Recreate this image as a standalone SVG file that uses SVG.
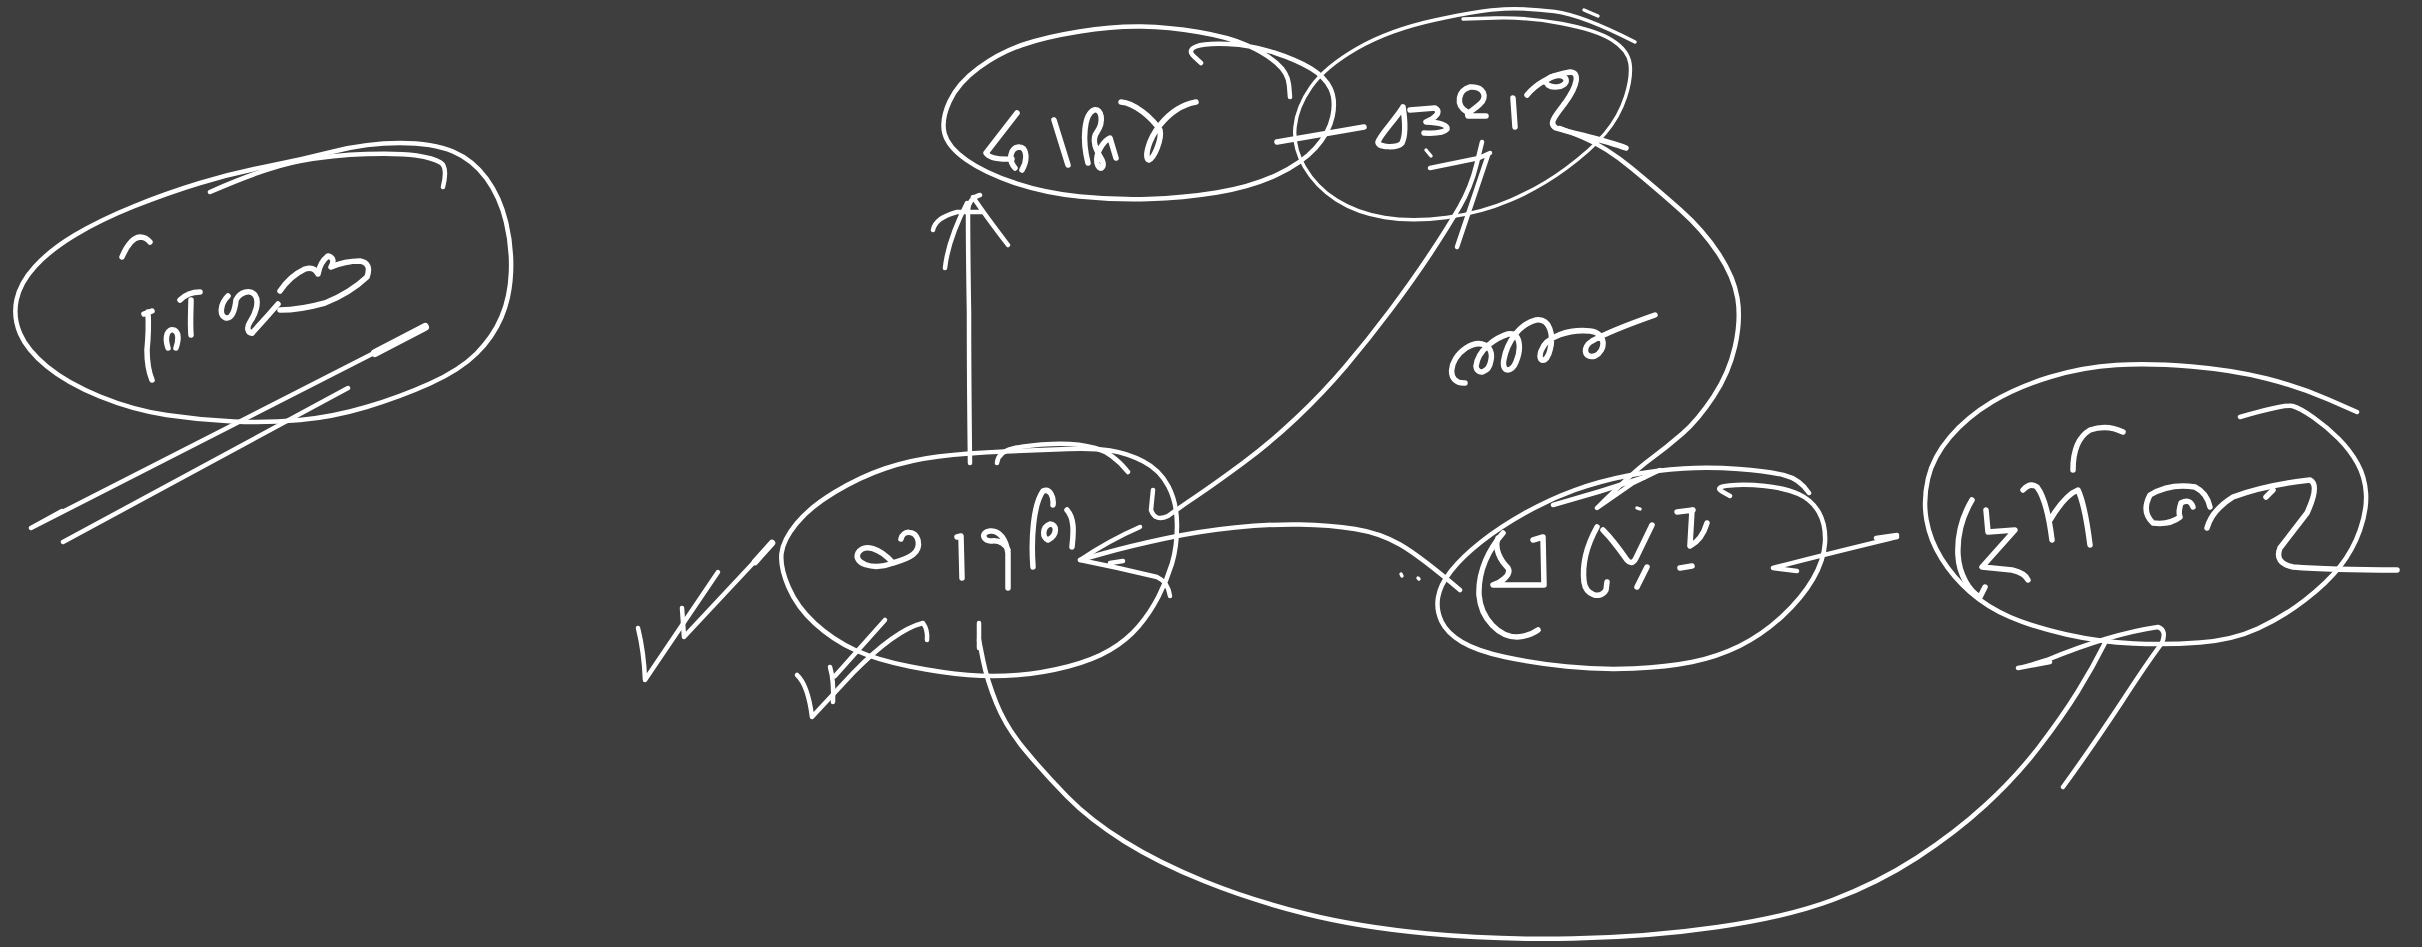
<svg xmlns="http://www.w3.org/2000/svg" width="2422" height="947" viewBox="0 0 2422 947">
<style>
.s{fill:none;stroke:#ffffff;stroke-width:4.5;stroke-linecap:round;stroke-linejoin:round}
.t{fill:none;stroke:#ffffff;stroke-width:5.5;stroke-linecap:round;stroke-linejoin:round}
.th{stroke-width:3.4}
</style>
<rect width="2422" height="947" fill="#3e3e3e"/>
<g id="node-left">
<path class="s" d="M 266.5,166.5 Q 300,160 333.5,151.5 Q 367,143 400,143 Q 433,143 453,151.5 Q 473,160 486.5,178.5 Q 500,197 506,222 Q 512,247 511,272 Q 510,297 501.5,317 Q 493,337 476.5,353.5 Q 460,370 430,383.5 Q 400,397 366.5,407 Q 333,417 300,420 Q 267,423 233.5,421.5 Q 200,420 166.5,415 Q 133,410 100,396.5 Q 67,383 47,366.5 Q 27,350 20,333.5 Q 13,317 16.5,300 Q 20,283 35,266.5 Q 50,250 75,235 Q 100,220 133.5,206.5 Q 167,193 200,183 Q 233,173 266.5,166.5 Z"/>
<path class="s" d="M 210,192 Q 267,167 300,161 Q 333,155 366.5,154 Q 400,153 416.5,155.5 Q 433,158 440.5,162.5 Q 448,167 443,187"/>
<path class="t" d="M 122,257 Q 130,238 140,237 Q 146,237 150,242"/>
<path class="t" d="M 144,314 L 152,311 M 148,312 Q 149,330 147,350 Q 147,368 152,380"/>
<path class="t" d="M 168,348 C 164,336 168,328 174,330 C 180,333 178,342 176,348"/>
<path class="t" d="M 191,335 C 190,322 191,308 191,300 M 180,300 C 185,295 192,292 200,292"/>
<path class="t" d="M 228,296 C 220,304 219,316 226,318 C 232,319 235,310 236,300 C 240,292 250,289 255,295 C 260,302 255,315 250,322 C 246,328 248,333 252,333"/>
<path class="t" d="M 252,333 Q 266,318 278,304"/>
<path class="t" d="M 280,291 Q 290,276 305,269 Q 314,266 318,274 Q 320,262 328,256 Q 336,258 331,267 Q 345,261 360,261 Q 372,263 367,277 Q 350,293 325,303 Q 300,310 280,310"/>
</g>
<g id="node-top-mid">
<path class="s" d="M 1201,63 L 1194,56.5 Q 1187,50 1196,46.5 Q 1205,43 1228,44 Q 1251,45 1274,52.5 Q 1297,60 1311,68.5 Q 1325,77 1330.5,88.5 Q 1336,100 1332.5,116.5 Q 1329,133 1315.5,148 Q 1302,163 1276.5,175 Q 1251,187 1217,192.5 Q 1183,198 1148.5,199 Q 1114,200 1079.5,196.5 Q 1045,193 1015,183 Q 985,173 966.5,160 Q 948,147 944.5,133.5 Q 941,120 949.5,101.5 Q 958,83 978.5,68 Q 999,53 1022,45 Q 1045,37 1079.5,31.5 Q 1114,26 1141.5,26.5 Q 1169,27 1198.5,32 Q 1228,37 1246.5,45 Q 1265,53 1276.5,63 Q 1288,73 1289,85 L 1290,97"/>
<path class="t" d="M 1017,113 L 986,153 Q 990,160 1012,159"/>
<path class="t" d="M 1015,168 C 1008,160 1010,148 1019,147 C 1027,147 1028,160 1022,170"/>
<path class="t" d="M 1054,120 L 1068,165"/>
<path class="t" d="M 1088,163 C 1082,140 1084,114 1094,110 C 1102,108 1104,122 1097,132 C 1091,140 1096,150 1102,160 C 1106,168 1099,172 1097,163 C 1095,152 1105,140 1110,138 L 1116,158"/>
<path class="t" d="M 1121,102 C 1135,103 1152,118 1160,130 C 1162,140 1154,158 1149,160 C 1144,158 1148,140 1160,125 C 1172,110 1185,104 1196,102"/>
</g>
<g id="node-top-right">
<path class="s th" d="M 1463,19 L 1495,18 Q 1527,17 1561.5,23.5 Q 1596,30 1612,40 Q 1628,50 1630,63.5 Q 1632,77 1625.5,97 Q 1619,117 1605,133.5 Q 1591,150 1566,168.5 Q 1541,187 1511,200 Q 1481,213 1446.5,217.5 Q 1412,222 1384.5,217.5 Q 1357,213 1336.5,200 Q 1316,187 1304.5,167 Q 1293,147 1295,127 Q 1297,107 1311,87 Q 1325,67 1357,48.5 Q 1389,30 1435,20 Q 1481,10 1504,9 Q 1527,8 1554.5,11.5 Q 1582,15 1635,42"/>
<path class="s th" d="M 1584,10 L 1598,16"/>
<path class="t" d="M 1277,142 L 1364,127"/>
<path class="t" d="M 1403,107 C 1395,120 1380,135 1378,142 C 1378,148 1398,148 1402,143 C 1406,135 1405,120 1403,107"/>
<path class="t" d="M 1410,110 L 1435,108 Q 1442,112 1432,119 L 1426,122 Q 1448,123 1447,129 Q 1443,134 1424,133"/>
<path class="s th" d="M 1426,150 L 1431,156"/>
<path class="t" d="M 1467,112 C 1455,105 1458,90 1470,87 C 1484,86 1488,97 1480,104 C 1474,110 1466,113 1468,116 L 1486,116"/>
<path class="t" d="M 1513,98 L 1515,127"/>
<path class="t" d="M 1527,95 C 1535,85 1550,75 1570,72 C 1580,72 1578,85 1565,103 C 1555,116 1548,124 1556,128 C 1575,134 1605,140 1626,148"/>
<path class="t" d="M 1545,82 C 1552,73 1568,74 1566,82 C 1563,88 1552,88 1548,85"/>
</g>
<g id="node-mid-left">
<path class="s" d="M 1005,451.5 Q 967,453 938.5,456.5 Q 910,460 885,468.5 Q 860,477 835,492 Q 810,507 796.5,523.5 Q 783,540 781.5,553.5 Q 780,567 788.5,587 Q 797,607 815,623.5 Q 833,640 855,650 Q 877,660 910,666.5 Q 943,673 968,675 Q 993,677 1018,675 Q 1043,673 1068,666.5 Q 1093,660 1110,650 Q 1127,640 1138.5,626.5 Q 1150,613 1158.5,596.5 Q 1167,580 1172,563.5 Q 1177,547 1177,525 Q 1177,503 1168.5,486.5 Q 1160,470 1143.5,461.5 Q 1127,453 1110,450.5 Q 1093,448 1068,449 Q 1043,450 1005,451.5 Z"/>
<path class="s" d="M 997,463 Q 998,452 1013,448.5 Q 1027,445 1052,444 Q 1077,443 1095,448 Q 1113,453 1128,472"/>
<path class="t" d="M 893,563 C 880,548 864,543 858,553 C 853,563 872,571 893,563 C 910,558 921,553 918,540 C 915,530 903,530 901,539"/>
<path class="t" d="M 957,537 L 961,536 L 962,578"/>
<path class="t" d="M 1008,588 L 1008,553 C 1006,540 1000,530 990,531 C 980,532 983,542 992,541 C 1000,540 1006,545 1008,550"/>
<path class="t" d="M 1033,567 C 1031,540 1033,505 1043,491 C 1050,488 1054,497 1053,505"/>
<path class="t" d="M 1048,540 C 1042,538 1042,527 1050,524 C 1057,524 1058,535 1048,540"/>
<path class="t" d="M 1072,547 C 1074,530 1074,518 1067,510"/>
</g>
<g id="node-mid-right">
<path class="s" d="M 1730,496 L 1722,491.5 Q 1714,487 1729.5,485.5 Q 1745,484 1765,486 Q 1785,488 1798.5,494 Q 1812,500 1819,512.5 Q 1826,525 1825,542.5 Q 1824,560 1813,579 Q 1802,598 1782,616.5 Q 1762,635 1739.5,646 Q 1717,657 1692,662 Q 1667,667 1633.5,668.5 Q 1600,670 1566.5,666.5 Q 1533,663 1505,657 Q 1477,651 1462,642 Q 1447,633 1441.5,621.5 Q 1436,610 1438,597.5 Q 1440,585 1451,571 Q 1462,557 1481,542 Q 1500,527 1525,513 Q 1550,499 1575,490 Q 1600,481 1628.5,475.5 Q 1657,470 1683.5,468.5 Q 1710,467 1738.5,469 Q 1767,471 1783.5,475 Q 1800,479 1809,493"/>
<path class="s" d="M 1553,505 Q 1600,492 1645,477"/>
<path class="t" d="M 1503,533 C 1490,548 1478,570 1479,595 C 1481,620 1500,637 1517,637 Q 1530,636 1538,630"/>
<path class="t" d="M 1498,538 C 1494,548 1500,560 1508,568 C 1512,575 1500,583 1493,585 L 1544,585 L 1543,537 L 1533,540"/>
<path class="t" d="M 1597,527 C 1587,545 1582,565 1584,582 C 1586,595 1600,600 1606,590 L 1607,582"/>
<path class="t" d="M 1603,530 C 1610,537 1620,550 1627,560 Q 1632,566 1636,558 L 1652,525"/>
<path class="t" d="M 1647,567 L 1637,587"/>
<path class="s th" d="M 1637,508 L 1640,509"/>
<path class="t" d="M 1677,512 L 1693,510 M 1692,510 L 1690,545 M 1707,523 Q 1702,540 1690,546"/>
<path class="t" d="M 1680,568 L 1692,566"/>
</g>
<g id="node-right">
<path class="s" d="M 2357,412 L 2328.5,399.5 Q 2300,387 2266.5,378.5 Q 2233,370 2191.5,366.5 Q 2150,363 2116.5,365 Q 2083,367 2050,377 Q 2017,387 1992,402 Q 1967,417 1950,437 Q 1933,457 1928,478.5 Q 1923,500 1926.5,520 Q 1930,540 1941.5,558.5 Q 1953,577 1970,592 Q 1987,607 2010,617 Q 2033,627 2066.5,634.5 Q 2100,642 2133.5,643.5 Q 2167,645 2200,642.5 Q 2233,640 2258,628.5 Q 2283,617 2305,600 Q 2327,583 2340,566.5 Q 2353,550 2360,530 Q 2367,510 2366,493.5 Q 2365,477 2357.5,463.5 Q 2350,450 2338.5,438.5 Q 2327,427 2313.5,417.5 Q 2300,408 2292.5,406 Q 2285,404 2240,417"/>
<path class="t" d="M 1972,500 C 1963,515 1957,535 1958,555 C 1959,575 1970,592 1980,597 L 1985,587"/>
<path class="t" d="M 1986,510 L 1988,532 L 2015,530 L 1982,567 L 2012,570 Q 2025,573 2028,580"/>
<path class="t" d="M 2023,490 Q 2030,482 2037,487 Q 2047,500 2052,540 M 2050,520 Q 2065,495 2078,490 Q 2085,505 2090,545"/>
<path class="t" d="M 2073,470 Q 2073,440 2090,430 Q 2107,424 2123,432"/>
<path class="t" d="M 2193,507 Q 2190,498 2181,503 Q 2178,512 2180,517 Q 2170,525 2153,523 Q 2141,512 2150,495 Q 2170,483 2195,487 Q 2207,493 2210,507"/>
<path class="t" d="M 2207,528 Q 2212,510 2233,497 Q 2265,485 2310,480 Q 2320,485 2307,513 Q 2290,535 2280,548 Q 2274,563 2293,567 Q 2330,570 2397,570"/>
<path class="t" d="M 2266,497 L 2273,490"/>
</g>
<g id="connectors">
<path class="s" d="M 425,327 L 31,528 L 62,511"/>
<path class="s" style="stroke-width:8" d="M 425,327 L 375,353"/>
<path class="s" d="M 348,388 L 63,542"/>
<path class="s" d="M 970,463 Q 969,380 969,313 Q 968,250 968,210 Q 969,198 980,195"/>
<path class="s" d="M 945,268 Q 948,240 967,203 M 973,197 Q 985,215 1008,245 M 933,230 Q 935,218 957,212 L 983,212"/>
<path class="s" d="M 1482,142 L 1476.5,164.5 Q 1471,187 1459.5,207 Q 1448,227 1430.5,253.5 Q 1413,280 1390.5,310 Q 1368,340 1345.5,366.5 Q 1323,393 1296.5,418 Q 1270,443 1243,463 Q 1216,483 1196,496.5 Q 1176,510 1168,516 Q 1155,522 1151,510 L 1153,490"/>
<path class="s" d="M 1488,155 L 1457,247 M 1430,168 L 1479,158 L 1490,153"/>
<path class="s" d="M 1560,128 L 1583,137.5 Q 1606,147 1632,168.5 Q 1658,190 1680.5,210 Q 1703,230 1718.5,253.5 Q 1734,277 1737.5,298.5 Q 1741,320 1735,346.5 Q 1729,373 1713.5,396.5 Q 1698,420 1682.5,433.5 Q 1667,447 1650,459.5 Q 1633,472 1597,508 L 1633,483 L 1660,470"/>
<path class="s" d="M 1080,560 L 1105,553 Q 1130,546 1165,538.5 Q 1200,531 1235,527.5 Q 1270,524 1300,524.5 Q 1330,525 1355,529 Q 1380,533 1400,544.5 Q 1420,556 1460,590"/>
<path class="s" d="M 1140,527 Q 1110,540 1080,560 Q 1120,568 1157,577 Q 1168,582 1170,596 M 1110,563 L 1123,561"/>
<path class="s th" d="M 1401,574 L 1402,576 M 1418,578 L 1419,579"/>
<path class="s" d="M 1876,538 L 1897,535 M 1897,537 C 1860,546 1810,558 1773,568 L 1797,571"/>
<path class="s" d="M 638,628 Q 644,652 645,680 L 718,572"/>
<path class="s" d="M 682,608 L 684,637 L 772,543"/>
<path class="s" style="stroke-width:6.5" d="M 755,562 L 772,543"/>
<path class="s" d="M 797,675 Q 808,685 812,717 L 853,673 Q 895,630 923,623 Q 928,630 927,640"/>
<path class="s" d="M 885,620 L 835,676 M 830,667 Q 834,680 833,702"/>
<path class="s" d="M 979,623 L 979,648"/>
<path class="s" d="M 979,640 L 983,660 Q 987,680 996.5,703.5 Q 1006,727 1025,750 Q 1044,773 1067,796.5 Q 1090,820 1124.5,841.5 Q 1159,863 1205,881.5 Q 1251,900 1304.5,913.5 Q 1358,927 1427,933.5 Q 1496,940 1572.5,938.5 Q 1649,937 1718,927 Q 1787,917 1832.5,900 Q 1878,883 1916.5,858 Q 1955,833 1985.5,805 Q 2016,777 2039,747 Q 2062,717 2077.5,692 Q 2093,667 2106,641"/>
<path class="s" d="M 2063,787 Q 2090,750 2123,700 Q 2147,663 2162,643 Q 2167,630 2158,627 Q 2110,634 2047,660 Q 2025,667 2018,668 L 2050,662"/>
<g id="edge-label">
<path class="t" d="M 1465,383 C 1446,384 1448,360 1466,348 C 1480,339 1494,345 1491,360 C 1489,373 1477,376 1476,366 C 1478,350 1495,338 1508,334 C 1520,331 1522,348 1516,362 C 1512,373 1501,373 1504,359 C 1507,343 1519,324 1536,320 C 1550,318 1554,335 1550,350 C 1547,364 1537,363 1541,351 C 1546,336 1570,329 1590,331 C 1607,333 1606,351 1595,356 C 1584,359 1582,347 1592,341 C 1610,331 1635,322 1655,315"/>
</g>
</g>
</svg>
